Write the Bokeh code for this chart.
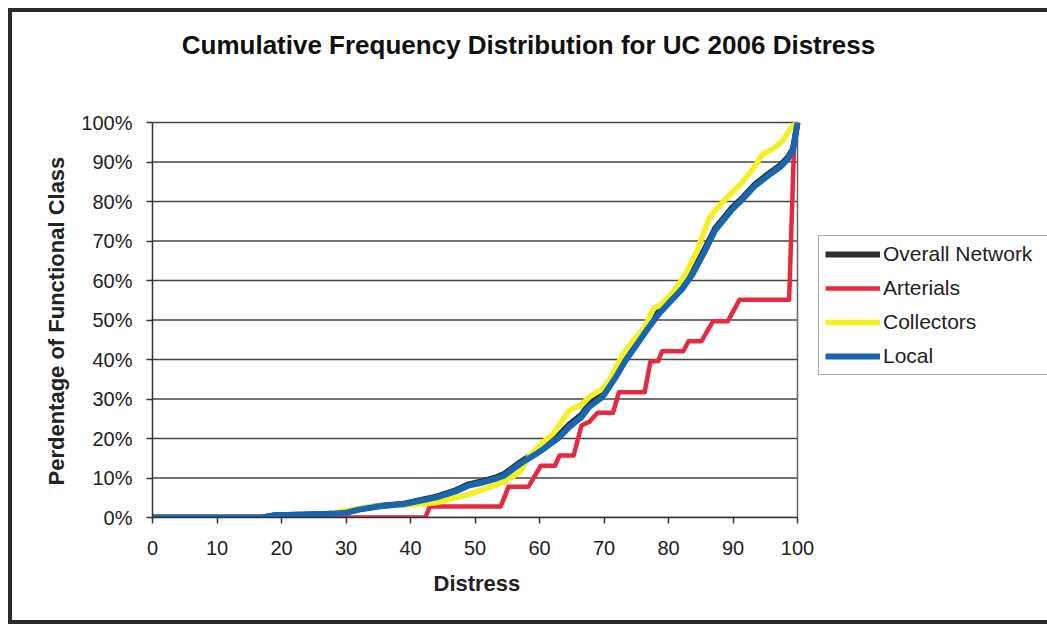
from bokeh.plotting import figure
from bokeh.models import Range1d, FixedTicker, Legend, LegendItem, Label, Title
from bokeh.embed import file_html
from bokeh.resources import INLINE

# ---------------- data ----------------
x_ticks = [0, 10, 20, 30, 40, 50, 60, 70, 80, 90, 100]
y_ticks = [0, 10, 20, 30, 40, 50, 60, 70, 80, 90, 100]
y_tick_labels = ["0%", "10%", "20%", "30%", "40%", "50%", "60%", "70%", "80%", "90%", "100%"]

series_names = ["Overall Network", "Arterials", "Collectors", "Local"]

overall_x = [0, 17, 19, 27, 30, 32, 35, 39, 42, 44, 47, 49, 51, 53, 54.5, 57, 59.5, 61, 63, 64.6, 66.5,
             67.7, 69.7, 70.8, 72, 73.3, 75.6, 77, 78.5, 80, 82.1, 83.7, 85.5, 87.2, 89.8, 91.5, 93.3,
             95.9, 97.5, 98.5, 99.3, 100]
overall_y = [0, 0, 0.6, 0.9, 1.3, 2.1, 2.9, 3.5, 4.6, 5.3, 6.9, 8.4, 9.1, 10.0, 11.0, 14.0, 16.6, 18.3,
             20.8, 23.5, 26.0, 28.7, 31.1, 33.7, 36.8, 40.4, 45.8, 49.1, 52.2, 54.8, 58.4, 62.1, 67.6,
             73.1, 78.3, 81.0, 84.2, 87.5, 89.4, 91.2, 93.3, 100]

arterials_x = [0, 42.3, 43, 54, 55.2, 58.3, 60.2, 62.4, 63.1, 65.3, 66.5, 67.7, 69, 71.4, 72.3, 76.3,
               77.2, 78.4, 79, 82.3, 83.1, 85.1, 86.9, 89.2, 91, 98.7, 99.5, 100]
arterials_y = [0, 0, 2.8, 2.8, 7.8, 7.8, 13.1, 13.1, 15.7, 15.7, 23.3, 24.2, 26.5, 26.5, 31.7, 31.7,
               39.5, 39.6, 42.1, 42.1, 44.6, 44.6, 49.7, 49.7, 55.1, 55.1, 96, 100]

collectors_x = [0, 26, 28, 31, 34, 38, 42, 44.1, 47, 49.2, 52, 54.4, 56.9, 58.5, 60.5, 62.1, 64.6, 66.7,
                67.7, 69.7, 70.8, 72.8, 74.4, 76.2, 77.7, 78.8, 80.8, 82.6, 84.4, 86.4, 88.7, 91.3,
                93.3, 94.6, 96.2, 97.7, 99, 100]
collectors_y = [0, 0, 1.2, 2.0, 2.8, 3.1, 3.4, 3.8, 5.0, 5.9, 7.5, 8.9, 11.4, 15.7, 19.0, 21.2, 27.1,
                28.8, 30.5, 32.5, 34.7, 41.0, 44.6, 47.9, 53.0, 53.8, 57.3, 61.5, 67.4, 76.1, 80.4,
                84.6, 88.7, 92.0, 93.3, 95.4, 98.7, 100]

local_x = [0, 17, 19, 27, 30, 32, 35, 39, 42, 44, 47, 49, 51, 53, 54.5, 57, 59.5, 61, 63, 64.6, 66.5,
           67.7, 69.7, 70.8, 72, 73.3, 75.6, 77, 78.5, 80, 82.1, 83.7, 85.5, 87.2, 89.8, 91.5, 93.3,
           95.9, 97.5, 98.5, 99.3, 100]
local_y = [0, 0, 0.6, 0.8, 1.2, 2.0, 2.8, 3.4, 4.4, 5.1, 6.6, 8.1, 8.8, 9.7, 10.6, 13.6, 16.1, 17.8,
           20.2, 22.9, 25.4, 28.0, 30.4, 33.0, 36.0, 39.6, 45.0, 48.3, 51.5, 54.2, 57.8, 61.5, 67.0,
           72.6, 77.9, 80.6, 83.8, 87.1, 89.0, 90.8, 92.9, 100]

colors = ["#2e2e2e", "#e8283f", "#f5f022", "#1766b0"]

FONT = "Liberation Sans"
INK = "#222222"

# ---------------- layout (pixels) ----------------
W, H = 1035, 608            # canvas size
LEFT, BOTTOM = 140, 103     # space for the axes
PLOT_W, PLOT_H = 645, 395   # size of the 0..100 x 0..100 area
frame_w = W - LEFT
frame_h = H - BOTTOM
x_end = x_ticks[-1] * frame_w / PLOT_W
y_end = y_ticks[-1] * frame_h / PLOT_H

p = figure(width=W, height=H, output_backend="svg", toolbar_location=None,
           x_range=Range1d(0, x_end), y_range=Range1d(0, y_end),
           min_border_left=LEFT, min_border_right=0, min_border_top=0, min_border_bottom=BOTTOM)

# dark scanned-page frame drawn as a shadow so that it does not change the layout
p.styles = {"margin-left": "12px", "margin-top": "12px",
            "box-shadow": "0 0 0 4px #2a2a2a"}

p.title.visible = False
p.grid.visible = False
p.outline_line_color = None

# gridlines limited to the 0..100 area, plus the right-hand border
n = len(y_ticks)
p.segment(x0=[x_ticks[0]] * n, x1=[x_ticks[-1]] * n, y0=y_ticks, y1=y_ticks,
          line_color="#444444", line_width=1.5)
p.segment(x0=[x_ticks[-1]], x1=[x_ticks[-1]], y0=[y_ticks[0]], y1=[y_ticks[-1]],
          line_color="#666666", line_width=1.5)

# axes
p.xaxis.ticker = FixedTicker(ticks=x_ticks)
p.yaxis.ticker = FixedTicker(ticks=y_ticks)
p.xaxis.bounds = (x_ticks[0], x_ticks[-1])
p.yaxis.bounds = (y_ticks[0], y_ticks[-1])
p.yaxis.major_label_overrides = {t: l for t, l in zip(y_ticks, y_tick_labels)}
for ax in (p.xaxis, p.yaxis):
    ax.axis_line_color = "#333333"
    ax.axis_line_width = 1.5
    ax.major_tick_line_color = "#333333"
    ax.major_tick_line_width = 1.5
    ax.major_tick_in = 0
    ax.major_tick_out = 6
    ax.minor_tick_line_color = None
    ax.major_label_text_font = FONT
    ax.major_label_text_font_size = "20px"
    ax.major_label_text_color = INK
p.xaxis.major_label_standoff = 17
p.yaxis.major_label_standoff = 14

# axis titles as side titles so that they can be centred on the 0..100 area
xlab = Title(text="Distress", align="left", offset=281, standoff=22,
             text_font=FONT, text_font_size="22px", text_font_style="bold", text_color=INK)
p.add_layout(xlab, "below")
ylab = Title(text="Perdentage of Functional Class", align="left", offset=32, standoff=20,
             text_font=FONT, text_font_size="22px", text_font_style="bold", text_color=INK)
p.add_layout(ylab, "left")

# chart title
title = Label(x=x_ticks[-1] * (528 - 152) / PLOT_W, y=y_ticks[-1] * (517 - 44) / PLOT_H,
              text="Cumulative Frequency Distribution for UC 2006 Distress",
              text_align="center", text_baseline="middle",
              text_font=FONT, text_font_size="26px", text_font_style="bold", text_color="#111111")
p.add_layout(title)

xs = [overall_x, arterials_x, collectors_x, local_x]
ys = [overall_y, arterials_y, collectors_y, local_y]
widths = [6, 4.5, 5.5, 6]
renderers = []
for x, y, c, w in zip(xs, ys, colors, widths):
    r = p.line(x, y, line_color=c, line_width=w, line_join="round")
    renderers.append(r)

legend = Legend(items=[LegendItem(label=nm, renderers=[r]) for nm, r in zip(series_names, renderers)],
                location=(666, 142), orientation="vertical")
legend.label_text_font = FONT
legend.label_text_font_size = "21px"
legend.label_text_color = INK
legend.glyph_width = 55
legend.glyph_height = 20
legend.label_height = 20
legend.label_width = 170
legend.label_standoff = 3
legend.spacing = 10
legend.padding = 6
legend.margin = 0
legend.border_line_color = "#555555"
legend.border_line_width = 1.5
legend.background_fill_alpha = 1
p.add_layout(legend, "center")

open("out.html", "w").write(file_html(p, INLINE))
